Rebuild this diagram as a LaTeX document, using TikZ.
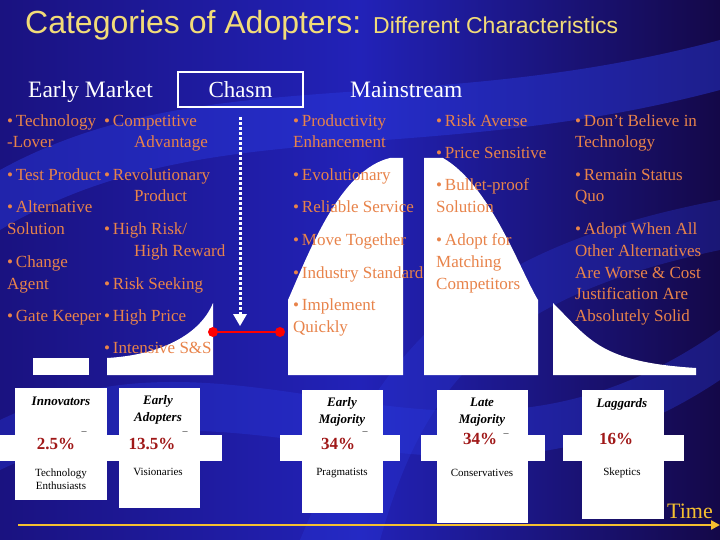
\documentclass[tikz,border=0pt]{standalone}
\usepackage{fontspec}
\setmainfont{Liberation Serif}
\newfontfamily\ttlfont{Liberation Sans}
\usetikzlibrary{arrows.meta}
\definecolor{bgA}{HTML}{1A1280}
\definecolor{bgB}{HTML}{2222B8}
\definecolor{bgC}{HTML}{140848}
\definecolor{band}{HTML}{2A3AE0}
\definecolor{ttl}{HTML}{F2DC78}
\definecolor{org}{HTML}{E8834A}
\definecolor{pct}{HTML}{A01818}
\definecolor{timec}{HTML}{F5C030}
\tikzset{
 txt/.style={anchor=base west,inner sep=0pt,text=org,font=\fontsize{17}{20}\selectfont},
 hdr/.style={anchor=base west,inner sep=0pt,text=white,font=\fontsize{23.5}{26}\selectfont},
 wbox/.style={fill=white,draw=none},
 lab/.style={inner sep=0pt,font=\fontsize{13}{15}\selectfont\itshape\bfseries,text=black},
 sub/.style={inner sep=0pt,font=\fontsize{11}{13}\selectfont,text=black},
 pc/.style={inner sep=0pt,font=\fontsize{17}{19}\selectfont\bfseries,text=pct},
}
\newcommand{\bl}{•\,}
\begin{document}
\begin{tikzpicture}[x=1pt,y=-1pt]
\useasboundingbox (0,0) rectangle (720,540);
\shade[left color=bgA,right color=bgC,middle color=bgB] (0,0) rectangle (720,540);
\fill[band,opacity=0.45] (0,170) .. controls (200,60) and (420,120) .. (720,40) -- (720,90) .. controls (420,170) and (200,110) .. (0,230) -- cycle;
\fill[band,opacity=0.35] (0,420) .. controls (250,300) and (450,520) .. (720,330) -- (720,380) .. controls (450,560) and (250,350) .. (0,470) -- cycle;
\fill[band,opacity=0.3] (300,540) .. controls (380,350) and (460,250) .. (720,200) -- (720,250) .. controls (480,300) and (420,400) .. (380,540) -- cycle;
% title
\node[anchor=base west,inner sep=0pt,text=ttl] (title) at (25,34) {\ttlfont\fontsize{32}{36}\selectfont Categories of Adopters: {\fontsize{23}{26}\selectfont Different Characteristics}};
% headers
\node[hdr] (em) at (28,98) {Early Market};
\node[draw=white,line width=1.5pt,minimum width=125pt,minimum height=35pt,inner sep=0pt,text=white,font=\fontsize{23}{26}\selectfont] (chasm) at (240.5,89.5) {Chasm};
\node[hdr] (ms) at (350,98) {Mainstream};
% curve segments
\fill[white] (33,358) rectangle (89,375);
\fill[white] (107,375) -- (107,358) .. controls (160,355) and (200,335) .. (213,303) -- (213,375) -- cycle;
\fill[white] (288,375) -- (288,300) .. controls (310,250) and (340,170) .. (390,158) -- (403,158) -- (403,375) -- cycle;
\fill[white] (424,375) -- (424,158) -- (443,158) .. controls (490,185) and (520,270) .. (538,300) -- (538,375) -- cycle;
\fill[white] (553,375) -- (553,303) .. controls (590,340) and (600,362) .. (696,368) -- (696,375) -- cycle;
% chasm arrow
\coordinate (ca) at (240,117);
\coordinate (cb) at (240,326);
\draw[white,line width=3pt,dash pattern=on 3pt off 2pt] (ca) -- (240,318);
\fill[white] (233,314) -- (247,314) -- (cb) -- cycle;
\coordinate (ra) at (213,332);
\coordinate (rb) at (280,332);
\draw[red,line width=2pt] (ra) -- (rb);
\fill[red] (ra) circle (5pt);
\fill[red] (rb) circle (5pt);
% column 1
\node[txt] (a1) at (7,127) {\bl Technology};
\node[txt] (a2) at (7,148) {-Lover};
\node[txt] (a3) at (104,127) {\bl Competitive};
\node[txt] (a4) at (134,148) {Advantage};
\node[txt] (a5) at (7,181) {\bl Test Product};
\node[txt] (a6) at (104,181) {\bl Revolutionary};
\node[txt] (a7) at (134,202) {Product};
\node[txt] (a8) at (7,213) {\bl Alternative};
\node[txt] (a9) at (7,234) {Solution};
\node[txt] (a10) at (104,234) {\bl High Risk/};
\node[txt] (a11) at (134,256) {High Reward};
\node[txt] (a12) at (7,267) {\bl Change};
\node[txt] (a13) at (7,289) {Agent};
\node[txt] (a14) at (104,289) {\bl Risk Seeking};
\node[txt] (a15) at (7,321) {\bl Gate Keeper};
\node[txt] (a16) at (104,321) {\bl High Price};
\node[txt] (a17) at (104,353) {\bl Intensive S\&S};
% column 2
\node[txt] (b1) at (293,127) {\bl Productivity};
\node[txt] (b2) at (293,148) {Enhancement};
\node[txt] (b3) at (293,181) {\bl Evolutionary};
\node[txt] (b4) at (293,213) {\bl Reliable Service};
\node[txt] (b5) at (293,245) {\bl Move Together};
\node[txt] (b6) at (293,278) {\bl Industry Standard};
\node[txt] (b7) at (293,310) {\bl Implement};
\node[txt] (b8) at (293,332) {Quickly};
% column 3
\node[txt] (c1) at (436,127) {\bl Risk Averse};
\node[txt] (c2) at (436,159) {\bl Price Sensitive};
\node[txt] (c3) at (436,191) {\bl Bullet-proof};
\node[txt] (c4) at (436,213) {Solution};
\node[txt] (c5) at (436,245) {\bl Adopt for};
\node[txt] (c6) at (436,267) {Matching};
\node[txt] (c7) at (436,289) {Competitors};
% column 4
\node[txt] (d1) at (575,127) {\bl Don’t Believe in};
\node[txt] (d2) at (575,148) {Technology};
\node[txt] (d3) at (575,181) {\bl Remain Status};
\node[txt] (d4) at (575,202) {Quo};
\node[txt] (d5) at (575,235) {\bl Adopt When All};
\node[txt] (d6) at (575,256) {Other Alternatives};
\node[txt] (d7) at (575,278) {Are Worse \& Cost};
\node[txt] (d8) at (575,299) {Justification Are};
\node[txt] (d9) at (575,321) {Absolutely Solid};
% bottom boxes
\fill[wbox] (15,388) rectangle (107,500);
\fill[wbox] (119,388) rectangle (200,508);
\fill[wbox] (0,435) rectangle (222,461);
\fill[wbox] (302,390) rectangle (383,513);
\fill[wbox] (280,435) rectangle (400,461);
\fill[wbox] (437,390) rectangle (528,523);
\fill[wbox] (421,435) rectangle (545,461);
\fill[wbox] (582,390) rectangle (664,519);
\fill[wbox] (563,435) rectangle (684,461);
\node[lab] (l1) at (61,401) {Innovators};
\node[lab,align=center] (l2) at (158,410) {Early\\[2pt]Adopters};
\node[lab,align=center] (l3) at (342,412) {Early\\[2pt]Majority};
\node[lab,align=center] (l4) at (482,412) {Late\\[2pt]Majority};
\node[lab] (l5) at (622,404) {Laggards};
\node[pc] (p1) at (56,444) {2.5\%};
\node[pc] (p2) at (152,444) {13.5\%};
\node[pc] (p3) at (338,444) {34\%};
\node[pc] (p4) at (480,439) {34\%};
\node[pc] (p5) at (616,439) {16\%};
\node[inner sep=0pt] (m1) at (84,436) {¯};
\node[inner sep=0pt] (m2) at (185,436) {¯};
\node[inner sep=0pt] (m3) at (365,436) {¯};
\node[inner sep=0pt] (m4) at (506,438) {¯};
\node[sub,align=center] (s1) at (61,479) {Technology\\Enthusiasts};
\node[sub] (s2) at (158,472) {Visionaries};
\node[sub] (s3) at (342,473) {Pragmatists};
\node[sub] (s4) at (482,473) {Conservatives};
\node[sub] (s5) at (622,473) {Skeptics};
% time
\node[anchor=base east,inner sep=0pt,text=timec,font=\fontsize{22}{24}\selectfont] (time) at (713,518) {Time};
\coordinate (t0) at (18,525);
\coordinate (t1) at (720,525);
\draw[timec,line width=2.5pt,-{Triangle[length=9pt,width=9pt]}] (t0) -- (t1);
\end{tikzpicture}
\end{document}
